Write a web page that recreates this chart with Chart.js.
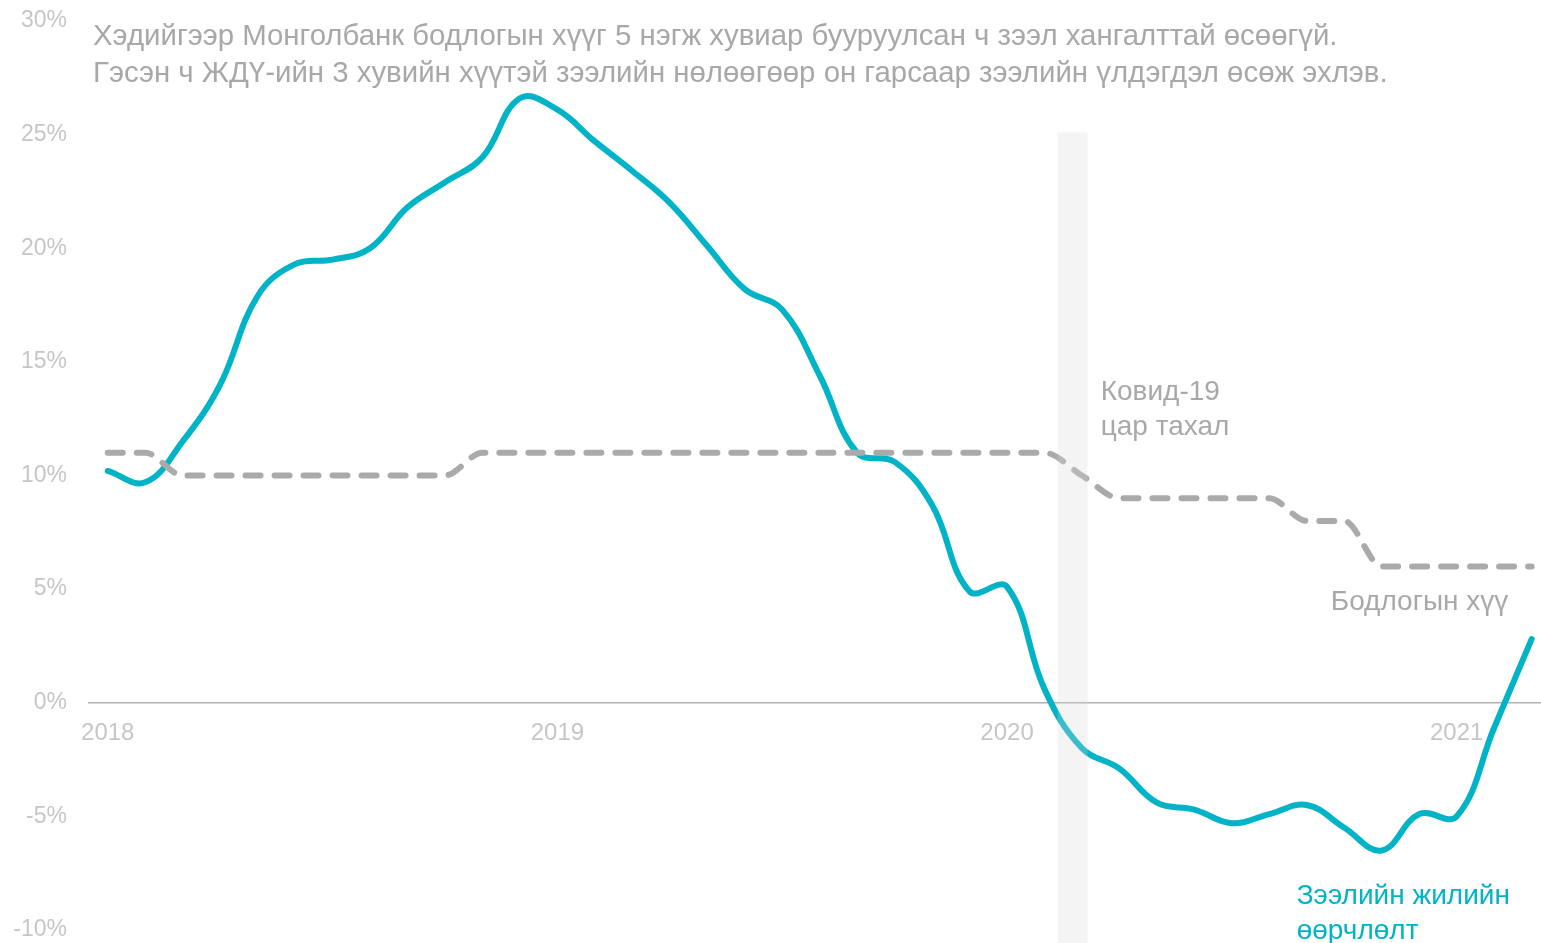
<!DOCTYPE html>
<html>
<head>
<meta charset="utf-8">
<script src="https://cdn.jsdelivr.net/npm/chart.js@4.4.1/dist/chart.umd.min.js"></script>
<style>
  html, body { margin: 0; padding: 0; background: #fff; overflow: hidden; }
  #wrap { position: relative; width: 1541px; height: 943px; }
</style>
</head>
<body>
<div id="wrap"><canvas id="loanChart"></canvas></div>
<script>
// Loan growth vs. Bank of Mongolia policy rate, monthly 2018-01 .. 2021-03

const months = [
  '2018-01', '2018-02', '2018-03', '2018-04', '2018-05', '2018-06',
  '2018-07', '2018-08', '2018-09', '2018-10', '2018-11', '2018-12',
  '2019-01', '2019-02', '2019-03', '2019-04', '2019-05', '2019-06',
  '2019-07', '2019-08', '2019-09', '2019-10', '2019-11', '2019-12',
  '2020-01', '2020-02', '2020-03', '2020-04', '2020-05', '2020-06',
  '2020-07', '2020-08', '2020-09', '2020-10', '2020-11', '2020-12',
  '2021-01', '2021-02', '2021-03',
];

// annual change of loans, %
const loanGrowth = [
  10.2, 9.7, 11.5, 14.0, 17.9, 19.3, 19.5, 20.0, 21.8, 22.9, 24.0, 26.6,
  26.1, 24.7, 23.4, 22.0, 20.1, 18.2, 17.3, 14.4, 11.0, 10.6, 8.7, 4.9,
  5.1, 0.6, -2.0, -2.9, -4.4, -4.7, -5.3, -4.9, -4.5, -5.5, -6.5, -4.9,
  -5.0, -1.1, 2.8,
];

// policy rate, %
const policyRate = [
  11, 11, 10, 10, 10, 10, 10, 10, 10, 10, 11, 11,
  11, 11, 11, 11, 11, 11, 11, 11, 11, 11, 11, 11,
  11, 11, 10, 9, 9, 9, 9, 9, 8, 8, 6, 6,
  6, 6, 6,
];

const yearLabels = ['2018', '2019', '2020', '2021'];
const yearIndex = [0, 12, 24, 36];

const titleLines = [
  'Хэдийгээр Монголбанк бодлогын хүүг 5 нэгж хувиар бууруулсан ч зээл хангалттай өсөөгүй.',
  'Гэсэн ч ЖДҮ-ийн 3 хувийн хүүтэй зээлийн нөлөөгөөр он гарсаар зээлийн үлдэгдэл өсөж эхлэв.',
];

// covid-19 shading, in month index / percent
const covidBand = [25.35, 26.15];
const covidBandTop = 25.1;

const colors = {
  teal: '#00b3c7',
  policy: '#aaaaaa',
  text: '#a8a8a8',
  tick: '#c6c6c6',
  axis: '#b0b0b0',
};

const font = "'Liberation Sans', Arial, sans-serif";

const notes = [
  { text: 'Ковид-19', x: 26.5, y: 13.68, color: colors.text },
  { text: 'цар тахал', x: 26.5, y: 12.1, color: colors.text },
  { text: 'Бодлогын хүү', x: 32.64, y: 4.4, color: colors.text },
  { text: 'Зээлийн жилийн', x: 31.73, y: -8.53, color: colors.teal },
  { text: 'өөрчлөлт', x: 31.73, y: -10.07, color: colors.teal },
];

const overlay = {
  id: 'overlay',
  afterDatasetsDraw(chart) {
    const { ctx, scales: { x, y } } = chart;
    ctx.save();

    // band sits on top of the lines, lightly
    const left = x.getPixelForValue(covidBand[0]);
    const right = x.getPixelForValue(covidBand[1]);
    const top = y.getPixelForValue(covidBandTop);
    ctx.fillStyle = 'rgba(214, 214, 214, 0.28)';
    ctx.fillRect(left, top, right - left, chart.height - top);

    ctx.textBaseline = 'middle';
    ctx.textAlign = 'left';

    ctx.font = '29.4px ' + font;
    ctx.fillStyle = colors.text;
    ctx.fillText(titleLines[0], 93, 37);
    ctx.fillText(titleLines[1], 93, 74);

    ctx.font = '28px ' + font;
    notes.forEach(n => {
      ctx.fillStyle = n.color;
      ctx.fillText(n.text, x.getPixelForValue(n.x), y.getPixelForValue(n.y));
    });
    ctx.restore();
  }
};

new Chart(document.getElementById('loanChart'), {
  type: 'line',
  data: {
    datasets: [
      {
        label: 'Бодлогын хүү',
        data: policyRate.map((v, i) => ({ x: i, y: v })),
        borderColor: colors.policy,
        borderWidth: 6,
        borderDash: [15, 14],
        borderCapStyle: 'round',
        borderJoinStyle: 'round',
        cubicInterpolationMode: 'monotone',
        pointRadius: 0,
        fill: false,
        order: 0,
      },
      {
        label: 'Зээлийн жилийн өөрчлөлт',
        data: loanGrowth.map((v, i) => ({ x: i, y: v })),
        borderColor: colors.teal,
        borderWidth: 6,
        borderCapStyle: 'round',
        borderJoinStyle: 'round',
        tension: 0.4,
        pointRadius: 0,
        fill: false,
        order: 1,
      },
    ]
  },
  options: {
    responsive: true,
    maintainAspectRatio: false,
    animation: false,
    layout: {
      padding: { top: 21, bottom: 13, left: 0, right: 0 },
    },
    plugins: {
      legend: { display: false },
      tooltip: { enabled: false },
    },
    scales: {
      x: {
        type: 'linear',
        position: { y: 0 },
        min: -0.5,
        max: 38.25,
        grid: { display: false, drawTicks: false },
        border: { display: true, color: colors.axis, width: 1.5 },
        afterBuildTicks: (scale) => {
          scale.ticks = yearIndex.map(v => ({ value: v }));
        },
        afterFit: (scale) => {
          scale.paddingLeft = 0;
          scale.paddingRight = 0;
        },
        ticks: {
          autoSkip: false,
          maxRotation: 0,
          padding: 16,
          color: colors.tick,
          font: { family: font, size: 24 },
          callback: (value) => yearLabels[yearIndex.indexOf(value)],
        }
      },
      y: {
        min: -10,
        max: 30,
        afterFit: (scale) => {
          scale.width = 89;
          scale.paddingTop = 0;
          scale.paddingBottom = 0;
        },
        grid: { display: false, drawTicks: false },
        border: { display: false },
        ticks: {
          stepSize: 5,
          padding: 22,
          color: colors.tick,
          font: { family: font, size: 23 },
          callback: (value) => value + '%',
        }
      }
    }
  },
  plugins: [overlay],
});
</script>
</body>
</html>
